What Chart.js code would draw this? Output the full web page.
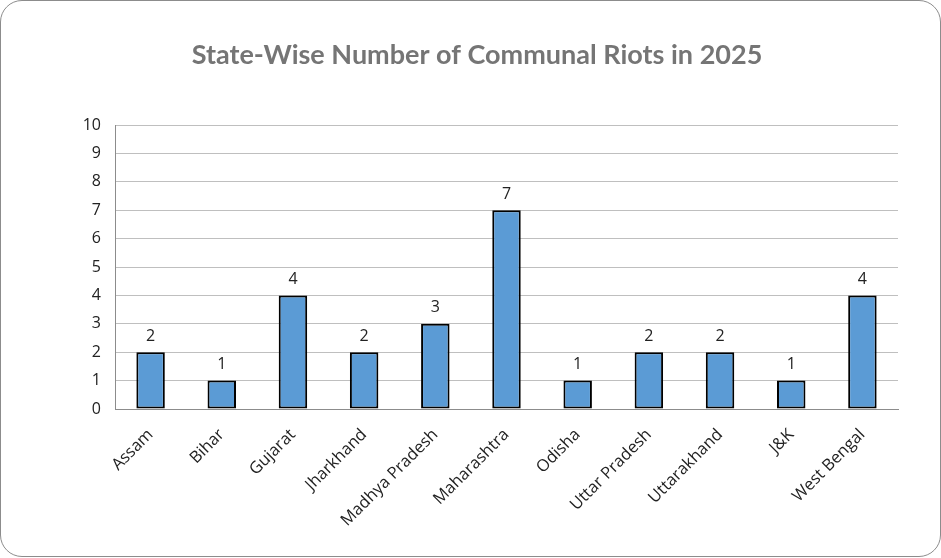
<!DOCTYPE html>
<html>
<head>
<meta charset="utf-8">
<script src="https://cdn.jsdelivr.net/npm/chart.js@4.4.1/dist/chart.umd.min.js"></script>
<style>
  html, body { margin: 0; padding: 0; background: #fff; }
  #wrap { position: relative; width: 941px; height: 558px; }
  #frame {
    position: absolute; left: 0; top: 0; width: 939px; height: 555px;
    border: 1px solid #8c8c8c; border-radius: 22px; pointer-events: none;
  }
</style>
</head>
<body>
<div id="wrap">
  <canvas id="riotsChart"></canvas>
  <div id="frame"></div>
</div>
<script>
// === Chart data ===
const chartTitle = 'State-Wise Number of Communal Riots in 2025';
const states = ['Assam', 'Bihar', 'Gujarat', 'Jharkhand', 'Madhya Pradesh', 'Maharashtra',
                'Odisha', 'Uttar Pradesh', 'Uttarakhand', 'J&K', 'West Bengal'];
const riots = [2, 1, 4, 2, 3, 7, 1, 2, 2, 1, 4];
const yTicks = [0, 1, 2, 3, 4, 5, 6, 7, 8, 9, 10];

// Value labels above bars + title centred on the whole frame
const valueLabels = {
    id: 'valueLabels',
    afterDatasetsDraw(chart) {
        const ctx = chart.ctx;
        const meta = chart.getDatasetMeta(0);
        ctx.save();
        ctx.font = '16px "Open Sans", sans-serif';
        ctx.fillStyle = '#222';
        ctx.textAlign = 'center';
        ctx.textBaseline = 'bottom';
        meta.data.forEach((bar, i) => {
            ctx.fillText(String(riots[i]), bar.x, bar.y - 8);
        });

        ctx.font = 'bold 27px Lato, "Open Sans", sans-serif';
        ctx.fillStyle = '#757575';
        ctx.textBaseline = 'middle';
        ctx.fillText(chartTitle, 477, 55);
        ctx.restore();
    }
};

function drawChart() {
    const canvas = document.getElementById('riotsChart');
    canvas.width = 941;
    canvas.height = 558;

    new Chart(canvas, {
        type: 'bar',
        data: {
            labels: states,
            datasets: [{
                data: riots,
                backgroundColor: '#5b9bd5',
                borderColor: '#000',
                borderWidth: 2,
                borderSkipped: false,
                categoryPercentage: 1,
                barPercentage: 0.4
            }]
        },
        options: {
            responsive: false,
            animation: false,
            devicePixelRatio: 1,
            layout: { padding: { top: 40, right: 43, left: 0, bottom: 0 } },
            plugins: {
                legend: { display: false },
                tooltip: { enabled: false },
                // keeps the space above the plot; the text itself is drawn by valueLabels
                title: {
                    display: true,
                    text: chartTitle,
                    color: 'rgba(0,0,0,0)',
                    font: { family: 'Lato, "Open Sans", sans-serif', size: 25, weight: 'bold', lineHeight: 1.2 },
                    padding: { top: 0, bottom: 55 }
                }
            },
            scales: {
                x: {
                    grid: { display: false, drawTicks: false },
                    border: { display: true, color: '#8c8c8c', width: 1 },
                    ticks: {
                        color: '#222',
                        font: { family: '"Open Sans", sans-serif', size: 16.5 },
                        maxRotation: 45,
                        minRotation: 45,
                        padding: 16,
                        autoSkip: false
                    },
                    afterFit(scale) { scale.height = 149; }
                },
                y: {
                    min: 0,
                    max: 10,
                    afterBuildTicks(scale) { scale.ticks = yTicks.map(v => ({ value: v })); },
                    grid: { color: '#bfbfbf', drawTicks: false, lineWidth: 1 },
                    border: { display: true, color: '#8c8c8c', width: 1 },
                    ticks: {
                        color: '#222',
                        font: { family: '"Open Sans", sans-serif', size: 16 },
                        padding: 14
                    },
                    afterFit(scale) { scale.width = 115; }
                }
            }
        },
        plugins: [valueLabels]
    });
}

// make sure the canvas fonts are ready before drawing
Promise.all([
    document.fonts.load('16px "Open Sans"'),
    document.fonts.load('bold 27px Lato')
]).then(drawChart, drawChart);
</script>
</body>
</html>
